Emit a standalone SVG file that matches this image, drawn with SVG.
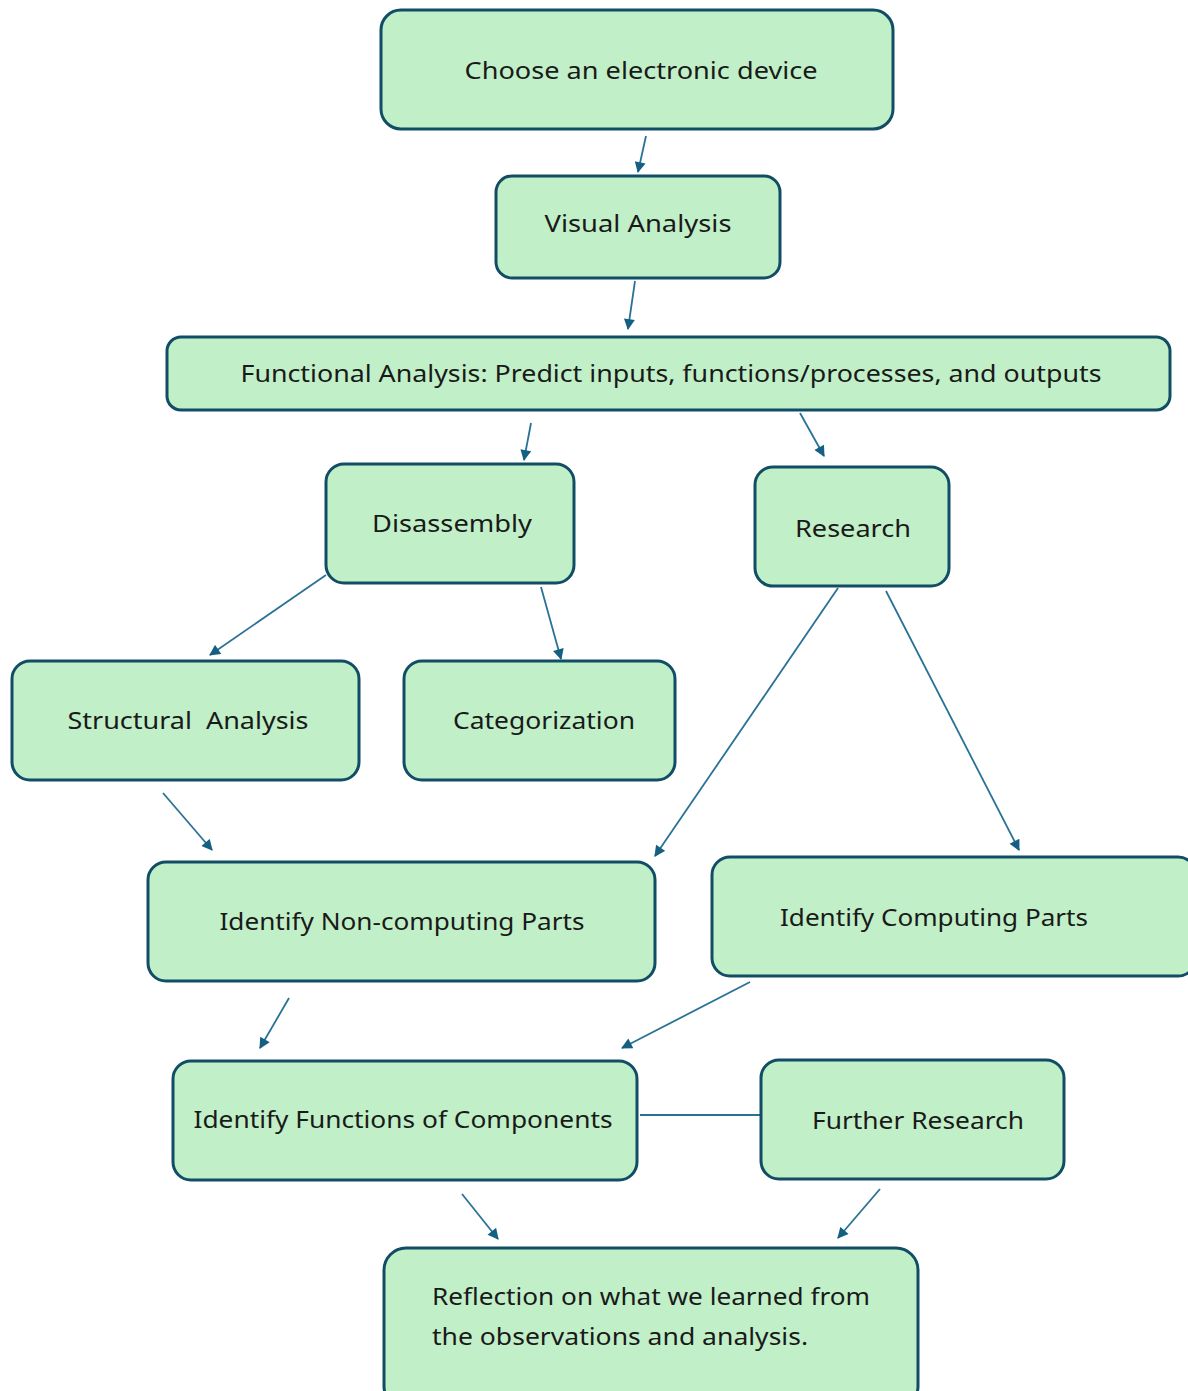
<svg xmlns="http://www.w3.org/2000/svg" width="1188" height="1391" viewBox="0 0 1188 1391">
  <defs>
    <marker id="ah" viewBox="0 0 10 10" refX="9" refY="5" markerWidth="13" markerHeight="11" markerUnits="userSpaceOnUse" orient="auto">
      <path d="M0,0 L10,5 L0,10 z" fill="#156082"/>
    </marker>
    <style>
      .box { fill: #c1f0c8; stroke: #124d66; stroke-width: 3; }
      .lbl { font-family: "Noto Sans", "Open Sans", sans-serif; font-size: 24px; fill: #1a1a1a; text-anchor: middle; }
      .lbl2 { font-family: "Noto Sans", "Open Sans", sans-serif; font-size: 24px; fill: #1a1a1a; }
      .conn { stroke: #2a7295; stroke-width: 1.8; fill: none; }
      .arr { marker-end: url(#ah); }
    </style>
  </defs>
  <rect width="1188" height="1391" fill="#ffffff"/>

  <g id="connectors">
    <line class="conn arr" x1="646" y1="136" x2="638" y2="172"/>
    <line class="conn arr" x1="635" y1="281" x2="628" y2="329"/>
    <line class="conn arr" x1="531" y1="423" x2="524" y2="460"/>
    <line class="conn arr" x1="800" y1="413" x2="824" y2="456"/>
    <line class="conn arr" x1="326" y1="575" x2="210" y2="655"/>
    <line class="conn arr" x1="541" y1="587" x2="561" y2="659"/>
    <line class="conn arr" x1="838" y1="588" x2="655" y2="856"/>
    <line class="conn arr" x1="886" y1="591" x2="1019" y2="850"/>
    <line class="conn arr" x1="163" y1="793" x2="212" y2="850"/>
    <line class="conn arr" x1="289" y1="998" x2="260" y2="1048"/>
    <line class="conn arr" x1="750" y1="982" x2="622" y2="1048"/>
    <line class="conn" x1="640" y1="1115" x2="761" y2="1115"/>
    <line class="conn arr" x1="462" y1="1194" x2="498" y2="1239"/>
    <line class="conn arr" x1="880" y1="1189" x2="838" y2="1238"/>
  </g>

  <g id="n-choose">
    <rect class="box" x="381" y="10" width="512" height="119" rx="20"/>
    <text class="lbl" x="641" y="79" textLength="353" lengthAdjust="spacingAndGlyphs">Choose an electronic device</text>
  </g>
  <g id="n-visual">
    <rect class="box" x="496" y="176" width="284" height="102" rx="16"/>
    <text class="lbl" x="638" y="232" textLength="187" lengthAdjust="spacingAndGlyphs">Visual Analysis</text>
  </g>
  <g id="n-functional">
    <rect class="box" x="167" y="337" width="1003" height="73" rx="14"/>
    <text class="lbl" x="671" y="382" textLength="861" lengthAdjust="spacingAndGlyphs">Functional Analysis: Predict inputs, functions/processes, and outputs</text>
  </g>
  <g id="n-disassembly">
    <rect class="box" x="326" y="464" width="248" height="119" rx="18"/>
    <text class="lbl" x="452" y="532" textLength="160" lengthAdjust="spacingAndGlyphs">Disassembly</text>
  </g>
  <g id="n-research">
    <rect class="box" x="755" y="467" width="194" height="119" rx="18"/>
    <text class="lbl" x="853" y="537" textLength="116" lengthAdjust="spacingAndGlyphs">Research</text>
  </g>
  <g id="n-structural">
    <rect class="box" x="12" y="661" width="347" height="119" rx="18"/>
    <text class="lbl" x="188" y="729" textLength="241" lengthAdjust="spacingAndGlyphs" xml:space="preserve">Structural  Analysis</text>
  </g>
  <g id="n-categorization">
    <rect class="box" x="404" y="661" width="271" height="119" rx="18"/>
    <text class="lbl" x="544" y="729" textLength="182" lengthAdjust="spacingAndGlyphs">Categorization</text>
  </g>
  <g id="n-noncomputing">
    <rect class="box" x="148" y="862" width="507" height="119" rx="18"/>
    <text class="lbl" x="402" y="930" textLength="365" lengthAdjust="spacingAndGlyphs">Identify Non-computing Parts</text>
  </g>
  <g id="n-computing">
    <rect class="box" x="712" y="857" width="484" height="119" rx="18"/>
    <text class="lbl" x="934" y="926" textLength="308" lengthAdjust="spacingAndGlyphs">Identify Computing Parts</text>
  </g>
  <g id="n-functions">
    <rect class="box" x="173" y="1061" width="464" height="119" rx="18"/>
    <text class="lbl" x="403" y="1128" textLength="419" lengthAdjust="spacingAndGlyphs">Identify Functions of Components</text>
  </g>
  <g id="n-further">
    <rect class="box" x="761" y="1060" width="303" height="119" rx="18"/>
    <text class="lbl" x="918" y="1129" textLength="212" lengthAdjust="spacingAndGlyphs">Further Research</text>
  </g>
  <g id="n-reflection">
    <rect class="box" x="384" y="1248" width="534" height="160" rx="22"/>
    <text class="lbl2" x="432" y="1305" textLength="438" lengthAdjust="spacingAndGlyphs">Reflection on what we learned from</text>
    <text class="lbl2" x="432" y="1345" textLength="376" lengthAdjust="spacingAndGlyphs">the observations and analysis.</text>
  </g>
</svg>
